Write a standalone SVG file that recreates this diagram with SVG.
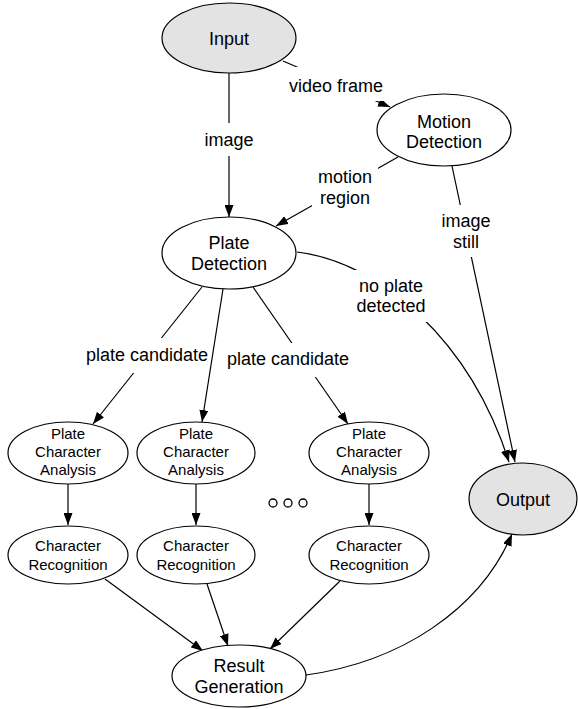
<svg xmlns="http://www.w3.org/2000/svg" width="578" height="709" viewBox="0 0 578 709">
<style>
.n{fill:#fff;stroke:#000;stroke-width:1.2}
.g{fill:#e3e3e3;stroke:#000;stroke-width:1.2}
.t{font-family:"Liberation Sans",Arial,sans-serif;font-size:18px;text-anchor:middle;fill:#000}
.s{font-family:"Liberation Sans",Arial,sans-serif;font-size:15px;text-anchor:middle;fill:#000}
.e{fill:none;stroke:#000;stroke-width:1.2}
.bg{fill:#fff;stroke:none}
</style>
<defs>
<marker id="a" markerUnits="userSpaceOnUse" markerWidth="12" markerHeight="9" refX="12" refY="4.5" orient="auto">
<path d="M0,0 L12,4.5 L0,9 z" fill="#000"/>
</marker>
</defs>
<rect width="578" height="709" fill="#fff"/>
<g id="connectors">
<path class="e" d="M229,73 L229,217" marker-end="url(#a)"/>
<path class="e" d="M283,61 L390,107" marker-end="url(#a)"/>
<path class="e" d="M398,157 L276,226" marker-end="url(#a)"/>
<path class="e" d="M452,166 L515,462" marker-end="url(#a)"/>
<path class="e" d="M297,252 C380,262 470,340 509,462" marker-end="url(#a)"/>
<path class="e" d="M202,287 L93,424" marker-end="url(#a)"/>
<path class="e" d="M223,289 L202,422" marker-end="url(#a)"/>
<path class="e" d="M253,287 L348,424" marker-end="url(#a)"/>
<path class="e" d="M68,484 L68,525" marker-end="url(#a)"/>
<path class="e" d="M196,484 L196,525" marker-end="url(#a)"/>
<path class="e" d="M369,484 L369,525" marker-end="url(#a)"/>
<path class="e" d="M105,579 L203,651" marker-end="url(#a)"/>
<path class="e" d="M207,584 L228,646" marker-end="url(#a)"/>
<path class="e" d="M340,581 L270,649" marker-end="url(#a)"/>
<path class="e" d="M306,675 C400,662 480,610 512,534" marker-end="url(#a)"/>
</g>
<g id="labels">
<rect class="bg" x="205" y="123" width="48" height="33"/>
<text class="t" x="229" y="146">image</text>
<rect class="bg" x="287" y="67" width="98" height="34"/>
<text class="t" x="336" y="92">video frame</text>
<rect class="bg" x="312" y="166" width="66" height="41"/>
<text class="t" x="345" y="183">motion</text>
<text class="t" x="345" y="204">region</text>
<rect class="bg" x="440" y="205" width="52" height="52"/>
<text class="t" x="466" y="227">image</text>
<text class="t" x="466" y="248">still</text>
<rect class="bg" x="350" y="270" width="82" height="52"/>
<text class="t" x="391" y="292">no plate</text>
<text class="t" x="391" y="312">detected</text>
<rect class="bg" x="84" y="338" width="125" height="35"/>
<text class="t" x="147" y="361">plate candidate</text>
<rect class="bg" x="226" y="343" width="125" height="34"/>
<text class="t" x="288" y="365">plate candidate</text>
</g>
<g id="input">
<ellipse class="g" cx="229" cy="38" rx="67" ry="35"/>
<text class="t" x="229" y="45">Input</text>
</g>
<g id="motion-detection">
<ellipse class="n" cx="444" cy="130" rx="67" ry="36"/>
<text class="t" x="444" y="128">Motion</text>
<text class="t" x="444" y="148">Detection</text>
</g>
<g id="plate-detection">
<ellipse class="n" cx="229" cy="253" rx="67" ry="36"/>
<text class="t" x="229" y="249">Plate</text>
<text class="t" x="229" y="270">Detection</text>
</g>
<g id="pca1">
<ellipse class="n" cx="68" cy="453" rx="60" ry="31"/>
<text class="s" x="68" y="439">Plate</text>
<text class="s" x="68" y="457">Character</text>
<text class="s" x="68" y="475">Analysis</text>
</g>
<g id="pca2">
<ellipse class="n" cx="196" cy="453" rx="59" ry="31"/>
<text class="s" x="196" y="439">Plate</text>
<text class="s" x="196" y="457">Character</text>
<text class="s" x="196" y="475">Analysis</text>
</g>
<g id="pca3">
<ellipse class="n" cx="369" cy="453" rx="60" ry="31"/>
<text class="s" x="369" y="439">Plate</text>
<text class="s" x="369" y="457">Character</text>
<text class="s" x="369" y="475">Analysis</text>
</g>
<g id="ellipsis">
<circle cx="273" cy="503" r="4" fill="none" stroke="#000" stroke-width="1.3"/>
<circle cx="288" cy="503" r="4" fill="none" stroke="#000" stroke-width="1.3"/>
<circle cx="303" cy="503" r="4" fill="none" stroke="#000" stroke-width="1.3"/>
</g>
<g id="cr1">
<ellipse class="n" cx="68" cy="555" rx="60" ry="29"/>
<text class="s" x="68" y="551">Character</text>
<text class="s" x="68" y="570">Recognition</text>
</g>
<g id="cr2">
<ellipse class="n" cx="196" cy="555" rx="59" ry="29"/>
<text class="s" x="196" y="551">Character</text>
<text class="s" x="196" y="570">Recognition</text>
</g>
<g id="cr3">
<ellipse class="n" cx="369" cy="555" rx="60" ry="29"/>
<text class="s" x="369" y="551">Character</text>
<text class="s" x="369" y="570">Recognition</text>
</g>
<g id="output">
<ellipse class="g" cx="523" cy="499" rx="54" ry="36"/>
<text class="t" x="523" y="506">Output</text>
</g>
<g id="result-generation">
<ellipse class="n" cx="239" cy="676" rx="67" ry="31"/>
<text class="t" x="239" y="672">Result</text>
<text class="t" x="239" y="693">Generation</text>
</g>
</svg>
